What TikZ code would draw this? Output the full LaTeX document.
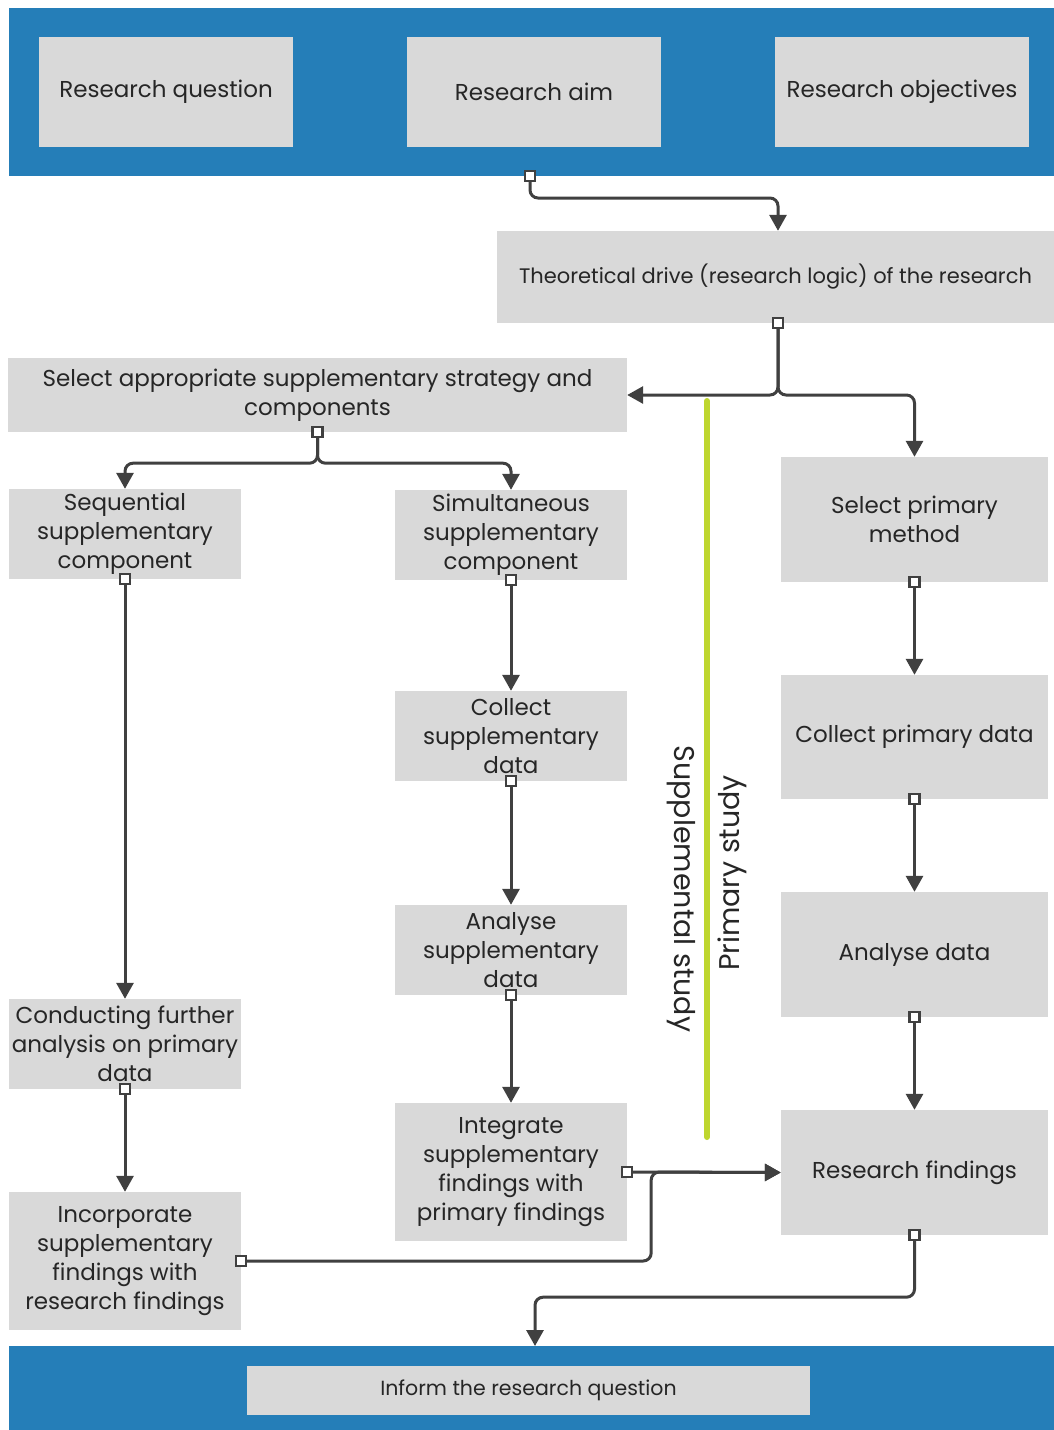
\documentclass[tikz,border=0pt]{standalone}
\usepackage{fontspec}
\setmainfont{Poppins}
\usetikzlibrary{arrows.meta,calc}
\definecolor{bandblue}{RGB}{37,126,184}
\definecolor{boxgray}{RGB}{217,217,217}
\definecolor{linegray}{RGB}{64,64,64}
\definecolor{limegreen}{RGB}{190,214,47}
\tikzset{
  band/.style={fill=bandblue,draw=none,inner sep=0pt,anchor=north west},
  gbox/.style={fill=boxgray,draw=none,inner sep=0pt,align=center,text=black!85,
    font=\fontsize{23}{29}\selectfont},
  conn/.style={draw=linegray,line width=3pt,rounded corners=8pt,
    -{Triangle[length=16pt,width=17pt]}},
  marker/.style={draw=linegray,fill=white,line width=2.2pt,minimum size=10pt,inner sep=0pt},
  sidelabel/.style={font=\fontsize{28.5}{32}\selectfont,text=black!85}
}
\newcommand{\gboxat}[6]{% name, x1, y1, x2, y2, text
  \node[gbox,minimum width=#4-#2,minimum height=#5-#3] (#1) at ({(#2+#4)/2},{(#3+#5)/2}) {#6};}
\begin{document}
\begin{tikzpicture}[x=1pt,y=-1pt]
\useasboundingbox (0,0) rectangle (1054,1430);
\fill[white] (0,0) rectangle (1054,1430);

% blue bands
\node[band,minimum width=1045pt,minimum height=168pt] (topband) at (9,8) {};
\node[band,minimum width=1045pt,minimum height=84pt] (bottomband) at (9,1346) {};

% top row
\gboxat{question}{39}{37}{293}{147}{Research question}
\gboxat{aim}{407}{37}{661}{147}{Research aim}
\gboxat{objectives}{775}{37}{1029}{147}{Research objectives}

% theoretical drive and strategy
\gboxat{theory}{497}{231}{1054}{323}{\fontsize{21}{29}\selectfont Theoretical drive (research logic) of the research}
\gboxat{select}{8}{358}{627}{432}{Select appropriate supplementary strategy and\\components}

% supplementary study, sequential branch
\gboxat{seq}{9}{489}{241}{579}{Sequential\\supplementary\\component}
\gboxat{further}{9}{999}{241}{1089}{Conducting further\\analysis on primary\\data}
\gboxat{incorp}{9}{1192}{241}{1330}{Incorporate\\supplementary\\findings with\\research findings}

% supplementary study, simultaneous branch
\gboxat{sim}{395}{490}{627}{580}{Simultaneous\\supplementary\\component}
\gboxat{collsup}{395}{691}{627}{781}{Collect\\supplementary\\data}
\gboxat{anasup}{395}{905}{627}{995}{Analyse\\supplementary\\data}
\gboxat{integ}{395}{1103}{627}{1241}{Integrate\\supplementary\\findings with\\primary findings}

% primary study
\gboxat{primsel}{781}{457}{1048}{582}{Select primary\\method}
\gboxat{primcoll}{781}{675}{1048}{799}{Collect primary data}
\gboxat{primana}{781}{892}{1048}{1017}{Analyse data}
\gboxat{findings}{781}{1110}{1048}{1235}{Research findings}

% closing box
\node[gbox,minimum width=563pt,minimum height=49pt,font=\fontsize{20.5}{24}\selectfont]
  (inform) at (528.5,1390.5) {Inform the research question};

% divider between the two studies
\draw[limegreen,line width=6pt,line cap=round] (707,401) coordinate (divtop) -- (707,1137) coordinate (divbot);
\node[sidelabel,rotate=-90] (suplabel) at (681,889) {Supplemental study};
\node[sidelabel,rotate=90] (primlabel) at (732,873) {Primary study};

% connectors
\coordinate (aimout) at (530,176);
\coordinate (theoryout) at (778,323);
\coordinate (informin) at (535,1346);
\draw[conn] (aimout) -- ++(0,22) -| (theoryout |- theory.north);
\draw[conn] (theoryout) |- (select.east);
\draw[conn] (theoryout) |- (primsel.north |- select.east) -- (primsel.north);
\draw[conn] (select.south) -- ++(0,31) -| (seq.north);
\draw[conn] (select.south) -- ++(0,31) -| (sim.north);
\draw[conn] (seq.south) -- (further.north);
\draw[conn] (further.south) -- (incorp.north);
\draw[conn] (sim.south) -- (collsup.north);
\draw[conn] (collsup.south) -- (anasup.north);
\draw[conn] (anasup.south) -- (integ.north);
\draw[conn] (integ.east) -- (findings.west);
\draw[conn] (incorp.east) -| ($(integ.east)+(24,0)$) -- (findings.west);
\draw[conn] (primsel.south) -- (primcoll.north);
\draw[conn] (primcoll.south) -- (primana.north);
\draw[conn] (primana.south) -- (findings.north);
\draw[conn] (findings.south) -- ++(0,62) -| (informin);

% connector start markers
\foreach \p in {aimout,theoryout,select.south,seq.south,further.south,sim.south,
  collsup.south,anasup.south,integ.east,incorp.east,primsel.south,primcoll.south,
  primana.south,findings.south}
  \node[marker] at (\p) {};
\end{tikzpicture}
\end{document}
